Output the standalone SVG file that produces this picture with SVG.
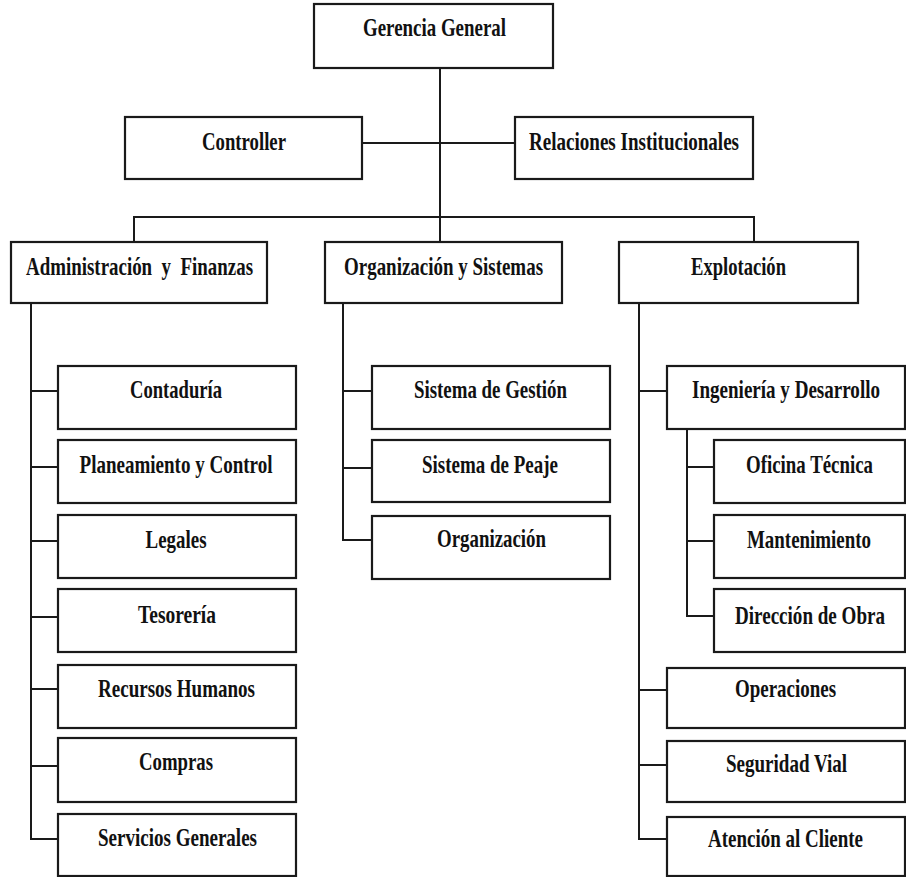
<svg xmlns="http://www.w3.org/2000/svg" width="906" height="877" viewBox="0 0 906 877">
<style>
rect.box{fill:#fff;stroke:#1a1a1a;stroke-width:2.2}
.conn line{stroke:#1a1a1a;stroke-width:2}
text{font-family:"Liberation Serif","Times New Roman",serif;font-weight:bold;font-size:22px;fill:#111;text-anchor:middle;white-space:pre}
text.sm{font-size:18px}
</style>
<rect width="906" height="877" fill="#fff"/>
<g class="conn">
<line x1="440" y1="68" x2="440" y2="242"/>
<line x1="362" y1="143" x2="515" y2="143"/>
<line x1="134" y1="217" x2="754" y2="217"/>
<line x1="134" y1="216" x2="134" y2="242"/>
<line x1="754" y1="216" x2="754" y2="242"/>
<line x1="31" y1="303" x2="31" y2="840"/>
<line x1="30" y1="391" x2="58" y2="391"/>
<line x1="30" y1="467" x2="58" y2="467"/>
<line x1="30" y1="541" x2="58" y2="541"/>
<line x1="30" y1="617" x2="58" y2="617"/>
<line x1="30" y1="689" x2="58" y2="689"/>
<line x1="30" y1="766" x2="58" y2="766"/>
<line x1="30" y1="839" x2="58" y2="839"/>
<line x1="343" y1="303" x2="343" y2="541"/>
<line x1="342" y1="391" x2="372" y2="391"/>
<line x1="342" y1="468" x2="372" y2="468"/>
<line x1="342" y1="540" x2="372" y2="540"/>
<line x1="639" y1="303" x2="639" y2="840"/>
<line x1="638" y1="391" x2="667" y2="391"/>
<line x1="638" y1="690" x2="667" y2="690"/>
<line x1="638" y1="765" x2="667" y2="765"/>
<line x1="638" y1="839" x2="667" y2="839"/>
<line x1="687" y1="429" x2="687" y2="617"/>
<line x1="686" y1="467" x2="714" y2="467"/>
<line x1="686" y1="541" x2="714" y2="541"/>
<line x1="686" y1="616" x2="714" y2="616"/>
</g>
<g id="gerencia"><rect class="box" x="314" y="4" width="239" height="64"/><text transform="translate(434.5,36) scale(1,1.18)" textLength="143" lengthAdjust="spacingAndGlyphs">Gerencia General</text></g>
<g id="controller"><rect class="box" x="125" y="117" width="237" height="62"/><text transform="translate(244,150) scale(1,1.18)" textLength="84" lengthAdjust="spacingAndGlyphs">Controller</text></g>
<g id="relaciones"><rect class="box" x="515" y="117" width="238" height="62"/><text transform="translate(634,150) scale(1,1.18)" textLength="210" lengthAdjust="spacingAndGlyphs">Relaciones Institucionales</text></g>
<g id="admin"><rect class="box" x="11" y="242" width="256" height="61"/><text transform="translate(139.5,275) scale(1,1.18)" textLength="227" lengthAdjust="spacingAndGlyphs">Administración  y  Finanzas</text></g>
<g id="orgsis"><rect class="box" x="325" y="242" width="237" height="61"/><text transform="translate(443.5,275) scale(1,1.18)" textLength="199" lengthAdjust="spacingAndGlyphs">Organización y Sistemas</text></g>
<g id="explotacion"><rect class="box" x="619" y="242" width="239" height="61"/><text transform="translate(738.5,275) scale(1,1.18)" textLength="95" lengthAdjust="spacingAndGlyphs">Explotación</text></g>
<g id="contaduria"><rect class="box" x="58" y="366" width="238" height="63"/><text transform="translate(176,398) scale(1,1.18)" textLength="92" lengthAdjust="spacingAndGlyphs">Contaduría</text></g>
<g id="planeamiento"><rect class="box" x="58" y="440" width="238" height="63"/><text transform="translate(176,473) scale(1,1.18)" textLength="193" lengthAdjust="spacingAndGlyphs">Planeamiento y Control</text></g>
<g id="legales"><rect class="box" x="58" y="515" width="238" height="63"/><text transform="translate(176,548) scale(1,1.18)" textLength="61" lengthAdjust="spacingAndGlyphs">Legales</text></g>
<g id="tesoreria"><rect class="box" x="58" y="589" width="238" height="63"/><text transform="translate(177,623) scale(1,1.18)" textLength="78" lengthAdjust="spacingAndGlyphs">Tesorería</text></g>
<g id="rrhh"><rect class="box" x="58" y="665" width="238" height="63"/><text transform="translate(176.5,697) scale(1,1.18)" textLength="157" lengthAdjust="spacingAndGlyphs">Recursos Humanos</text></g>
<g id="compras"><rect class="box" x="58" y="738" width="238" height="64"/><text transform="translate(176,770) scale(1,1.18)" textLength="74" lengthAdjust="spacingAndGlyphs">Compras</text></g>
<g id="servicios"><rect class="box" x="58" y="814" width="238" height="62"/><text transform="translate(177.5,846) scale(1,1.18)" textLength="159" lengthAdjust="spacingAndGlyphs">Servicios Generales</text></g>
<g id="gestion"><rect class="box" x="372" y="366" width="238" height="63"/><text transform="translate(490.5,398) scale(1,1.18)" textLength="153" lengthAdjust="spacingAndGlyphs">Sistema de Gestión</text></g>
<g id="peaje"><rect class="box" x="372" y="440" width="238" height="62"/><text transform="translate(490,473) scale(1,1.18)" textLength="136" lengthAdjust="spacingAndGlyphs">Sistema de Peaje</text></g>
<g id="organizacion"><rect class="box" x="372" y="516" width="238" height="63"/><text transform="translate(491.5,547) scale(1,1.18)" textLength="109" lengthAdjust="spacingAndGlyphs">Organización</text></g>
<g id="ingenieria"><rect class="box" x="667" y="366" width="238" height="63"/><text class="sm" transform="translate(786,398) scale(1,1.44)" textLength="188" lengthAdjust="spacingAndGlyphs">Ingeniería y Desarrollo</text></g>
<g id="oficina"><rect class="box" x="714" y="440" width="191" height="63"/><text transform="translate(809.5,473) scale(1,1.18)" textLength="127" lengthAdjust="spacingAndGlyphs">Oficina Técnica</text></g>
<g id="mantenimiento"><rect class="box" x="714" y="515" width="191" height="63"/><text transform="translate(809,548) scale(1,1.18)" textLength="124" lengthAdjust="spacingAndGlyphs">Mantenimiento</text></g>
<g id="direccion"><rect class="box" x="714" y="589" width="191" height="63"/><text class="sm" transform="translate(810,624) scale(1,1.44)" textLength="150" lengthAdjust="spacingAndGlyphs">Dirección de Obra</text></g>
<g id="operaciones"><rect class="box" x="667" y="668" width="238" height="60"/><text transform="translate(785.5,697) scale(1,1.18)" textLength="101" lengthAdjust="spacingAndGlyphs">Operaciones</text></g>
<g id="seguridad"><rect class="box" x="667" y="741" width="238" height="61"/><text transform="translate(786.5,772) scale(1,1.18)" textLength="121" lengthAdjust="spacingAndGlyphs">Seguridad Vial</text></g>
<g id="atencion"><rect class="box" x="667" y="817" width="238" height="59"/><text transform="translate(785.5,847) scale(1,1.18)" textLength="155" lengthAdjust="spacingAndGlyphs">Atención al Cliente</text></g>
</svg>
